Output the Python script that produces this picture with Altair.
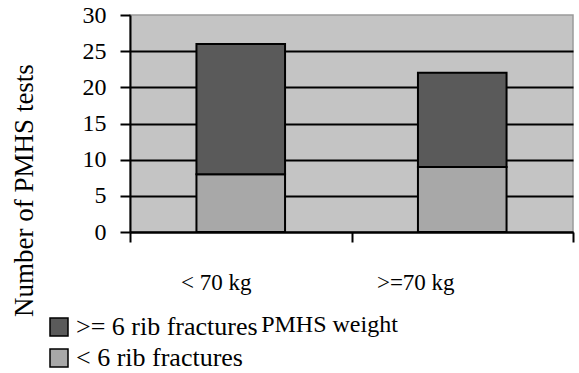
import altair as alt
import pandas as pd

# PMHS tests by body weight, split by rib-fracture outcome
weights = ["< 70 kg", ">=70 kg"]
under_six = [8, 9]        # < 6 rib fractures
six_or_more = [18, 13]    # >= 6 rib fractures
series = [">= 6 rib fractures", "< 6 rib fractures"]
series_colors = ["#5a5a5a", "#a8a8a8"]
y_ticks = [0, 5, 10, 15, 20, 25, 30]

rows = []
for w, lo, hi in zip(weights, under_six, six_or_more):
    rows.append({"weight": w, "outcome": series[1], "count": lo, "stack": 0})
    rows.append({"weight": w, "outcome": series[0], "count": hi, "stack": 1})
df = pd.DataFrame(rows)

FONT = "Liberation Serif, Times New Roman, DejaVu Serif, serif"

bars = alt.Chart(df).mark_bar(
    width=alt.RelativeBandSize(0.4), stroke="black", strokeWidth=2
).encode(
    x=alt.X(
        "weight:N",
        sort=weights,
        scale=alt.Scale(paddingInner=0, paddingOuter=0),
        axis=alt.Axis(
            title="PMHS weight",
            labelAngle=0,
            tickBand="extent",
            tickSize=10,
            tickWidth=2,
            tickColor="black",
            domainColor="black",
            domainWidth=2,
            labelFont=FONT,
            labelFontSize=23,
            labelColor="black",
            labelBaseline="alphabetic",
            labelPadding=47,
            labelOffset={"condition": {"test": "datum.value == '< 70 kg'", "value": -25}, "value": -47},
            titleFont=FONT,
            titleFontSize=24,
            titleFontWeight="normal",
            titleColor="black",
            titleBaseline="alphabetic",
            titleAlign="center",
            titleX=199,
            titleY=99,
        ),
    ),
    y=alt.Y(
        "count:Q",
        stack="zero",
        scale=alt.Scale(domain=[0, 30], nice=False),
        axis=alt.Axis(
            title="Number of PMHS tests",
            values=y_ticks,
            grid=True,
            gridColor={"condition": {"test": "datum.value >= 30", "value": "transparent"}, "value": "black"},
            gridWidth=2,
            tickSize=10,
            tickWidth=2,
            tickColor="black",
            domainColor="black",
            domainWidth=2,
            labelFont=FONT,
            labelFontSize=24,
            labelColor="black",
            labelPadding=14,
            titleFont=FONT,
            titleFontSize=27,
            titleFontWeight="normal",
            titleColor="black",
            titleBaseline="alphabetic",
            titleAlign="center",
            titleX=-98,
            titleY=175,
        ),
    ),
    color=alt.Color(
        "outcome:N",
        scale=alt.Scale(domain=series, range=series_colors),
        legend=alt.Legend(
            title=None,
            orient="none",
            legendX=-84,
            legendY=299,
            symbolType="square",
            symbolSize=324,
            symbolStrokeColor="black",
            symbolStrokeWidth=1.5,
            labelFont=FONT,
            labelFontSize=26,
            labelColor="black",
            labelOffset=4,
            labelLimit=0,
            rowPadding=5,
            padding=0,
        ),
    ),
    order=alt.Order("stack:Q", sort="ascending"),
)

chart = bars.properties(
    width=443,
    height=217,
    autosize=alt.AutoSizeParams(type="none"),
    padding={"left": 130, "top": 15, "right": 6, "bottom": 141},
    background="white",
).configure_view(
    fill="#c4c4c4",
    stroke="#9a9a9a",
    strokeWidth=1.5,
)

chart.save("out.html", embed_options={"renderer": "svg", "actions": False})
